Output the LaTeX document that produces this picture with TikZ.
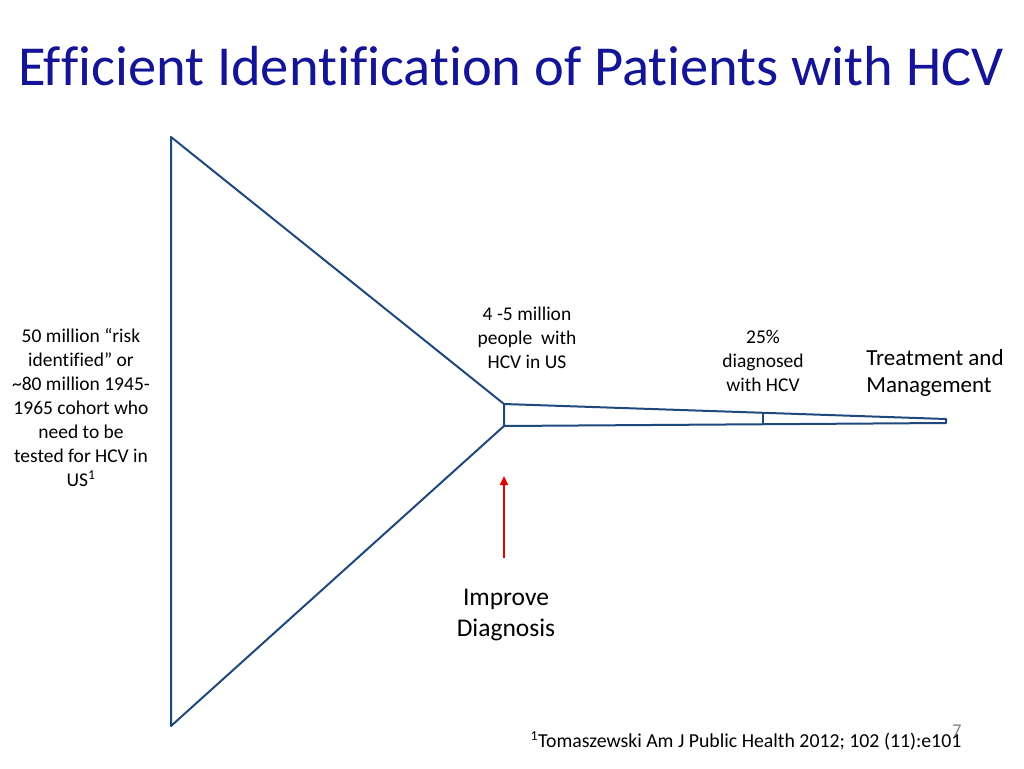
\documentclass[tikz,border=0pt]{standalone}
\usepackage{fontspec}
\setmainfont{Carlito}[Ligatures={NoCommon}]
\usetikzlibrary{arrows.meta}
\definecolor{titleblue}{RGB}{20,20,150}
\definecolor{funnel}{RGB}{31,73,125}
\tikzset{lbl/.style={align=center,font=\fontsize{19.5}{24}\selectfont},
fl/.style={draw=funnel,line width=2pt,line join=round}}
\begin{document}
\begin{tikzpicture}[x=1pt,y=-1pt]
\useasboundingbox (0,0) rectangle (1024,768);
\node[text=titleblue,font=\fontsize{56.5}{60}\selectfont,anchor=center] (title) at (511,66) {Ef\kern0ptf\kern0pticient Identif\kern0ptication of Patients with HCV};
\coordinate (tl) at (171,137); \coordinate (bl) at (171,726);
\coordinate (nt) at (504,404); \coordinate (nb) at (504,426);
\coordinate (et) at (946,419); \coordinate (eb) at (946,423);
\coordinate (dt) at (763,413); \coordinate (db) at (763,424);
\draw[fl] (nt) -- (tl) -- (bl) -- (nb) -- (nt) -- (et) -- (eb) -- (nb);
\draw[fl] (dt) -- (db);
\coordinate (as) at (504,558); \coordinate (ae) at (504,476);
\draw[red!90!black,line width=2pt,-{Triangle[length=9pt,width=8pt]}] (as) -- (ae);
\node[lbl] (left) at (81,408) {50 million “risk\\identif\kern0ptied” or\\\textasciitilde80 million 1945-\\1965 cohort who\\need to be\\tested for\ HCV in\\US\textsuperscript{1}};
\node[lbl] (mid) at (527,338) {4 -5 million\\people\ \ with\\HCV in US};
\node[lbl] (diag) at (763,361) {25\%\\diagnosed\\with HCV};
\node[lbl,font=\fontsize{23}{27}\selectfont,align=left] (treat) at (935,373) {Treatment and\\Management};
\node[lbl,font=\fontsize{25.5}{31}\selectfont] (imp) at (506,615) {Improve\\Diagnosis};
\node[font=\fontsize{19.8}{22}\selectfont] (ref) at (746,741) {\textsuperscript{1}Tomaszewski Am J Public Health 2012; 102 (11):e101};
\node[text=gray,font=\fontsize{18}{20}\selectfont] (pg) at (957,731) {7};
\end{tikzpicture}
\end{document}
